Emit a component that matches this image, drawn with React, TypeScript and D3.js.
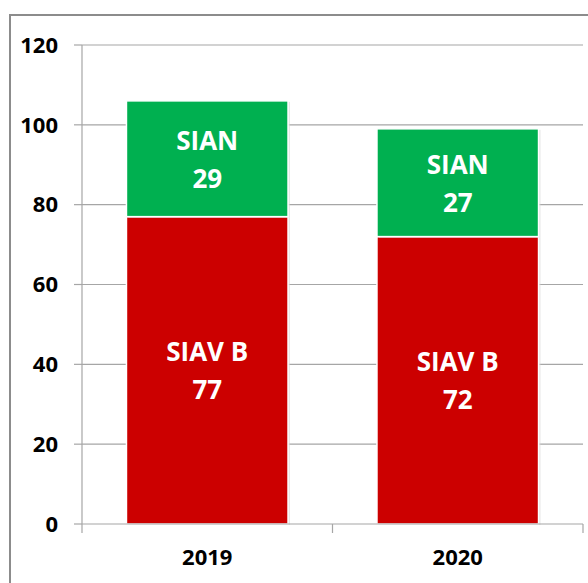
import React from "react";
import * as d3 from "d3";

const years = ["2019", "2020"];
const siavB = [77, 72];
const sian = [29, 27];
const seriesNames = ["SIAV B", "SIAN"];
const seriesColors = ["#cc0000", "#00b050"];
const yTicks = [0, 20, 40, 60, 80, 100, 120];

const W = 588;
const H = 583;
const left = 82;
const right = 583;
const top = 45;
const bottom = 524;
const font = "'Open Sans', 'Liberation Sans', sans-serif";

export default function App() {
  const x = d3.scaleBand().domain(years).range([left, right]).paddingInner(0).paddingOuter(0);
  const y = d3.scaleLinear().domain([0, 120]).range([bottom, top]);
  const barW = x.bandwidth() * 0.645;

  const rows = years.map((yr, i) => ({ year: yr, "SIAV B": siavB[i], SIAN: sian[i] }));
  const stacked = d3.stack<any>().keys(seriesNames)(rows);

  return (
    <svg width={W} height={H} style={{ position: "absolute", left: 0, top: 0, background: "#fff" }}>
      <rect x={0} y={0} width={W} height={H} fill="#fff" />
      {/* outer frame, cut off at right and bottom */}
      <rect x={10} y={15} width={W + 10} height={H + 10} fill="none" stroke="#8c8c8c" strokeWidth={2} />

      {yTicks.map((t) => (
        <g key={t}>
          {t > 0 && <line x1={left} x2={right} y1={y(t)} y2={y(t)} stroke="#a6a6a6" strokeWidth={1.2} />}
          <line x1={left - 8} x2={left} y1={y(t)} y2={y(t)} stroke="#a6a6a6" strokeWidth={1.2} />
          <text x={58} y={y(t)} dy="0.35em" textAnchor="end" fontFamily={font} fontWeight="bold" fontSize={22} fill="#000">
            {t}
          </text>
        </g>
      ))}
      <line x1={left} x2={left} y1={top} y2={bottom} stroke="#a6a6a6" strokeWidth={1.2} />

      {stacked.map((s, si) =>
        s.map((d, i) => {
          const cx = (x(years[i]) as number) + x.bandwidth() / 2;
          const y0 = y(d[0]);
          const y1 = y(d[1]);
          const mid = (y0 + y1) / 2;
          const val = si === 0 ? siavB[i] : sian[i];
          return (
            <g key={`${si}-${i}`}>
              <rect x={cx - barW / 2 + 2} y={y1 + 1} width={barW} height={y0 - y1} fill="#d9d9d9" opacity={0.6} />
              <rect x={cx - barW / 2} y={y1} width={barW} height={y0 - y1} fill={seriesColors[si]} stroke="#fff" strokeWidth={1.5} />
              <text x={cx} y={mid - 18} dy="0.35em" textAnchor="middle" fontFamily={font} fontWeight="bold" fontSize={26} fill="#fff">
                {seriesNames[si]}
              </text>
              <text x={cx} y={mid + 20} dy="0.35em" textAnchor="middle" fontFamily={font} fontWeight="bold" fontSize={26} fill="#fff">
                {val}
              </text>
            </g>
          );
        })
      )}

      <line x1={left} x2={right} y1={bottom} y2={bottom} stroke="#a6a6a6" strokeWidth={1.2} />
      {[left, left + x.bandwidth(), right].map((tx, i) => (
        <line key={i} x1={tx} x2={tx} y1={bottom} y2={bottom + 9} stroke="#a6a6a6" strokeWidth={1.2} />
      ))}
      {years.map((yr) => (
        <text key={yr} x={(x(yr) as number) + x.bandwidth() / 2} y={557} dy="0.35em" textAnchor="middle" fontFamily={font} fontWeight="bold" fontSize={22} fill="#000">
          {yr}
        </text>
      ))}
    </svg>
  );
}
